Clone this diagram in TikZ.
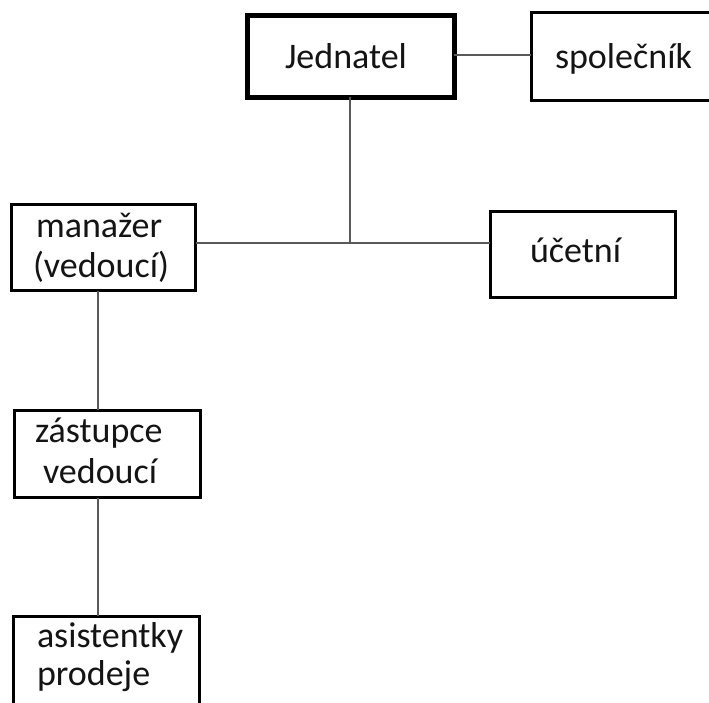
\documentclass[tikz,border=0pt]{standalone}
\usepackage{fontspec}
\setmainfont{Carlito}
\begin{document}
\begin{tikzpicture}[x=1pt,y=-1pt,
  box/.style={draw=black, line width=3pt, inner sep=0pt, outer sep=0pt, rectangle},
  thickbox/.style={box, line width=5pt},
  lbl/.style={anchor=base west, inner sep=0pt, outer sep=0pt, text=black!92, font=\fontsize{36}{40}\selectfont},
  conn/.style={draw=black!65, line width=1.5pt}]
\useasboundingbox (0,0) rectangle (709,702);
\clip (0,0) rectangle (709,702);
\fill[white] (0,0) rectangle (709,702);
% boxes
\node[thickbox, minimum width=207pt, minimum height=82pt] (J) at (350.5,56) {};
\node[box, minimum width=229pt, minimum height=87.5pt] (S) at (645.5,56.25) {};
\node[box, minimum width=184.5pt, minimum height=86pt] (M) at (103.25,247.5) {};
\node[box, minimum width=185pt, minimum height=86pt] (U) at (582.5,254) {};
\node[box, minimum width=185.5pt, minimum height=87.5pt] (Z) at (107.25,453.75) {};
\node[box, minimum width=185.5pt, minimum height=144pt] (A) at (106.25,688) {};
% texts
\node[lbl] (tJ) at (285,68) {Jednatel};
\node[lbl] (tS) at (555,68) {společník};
\node[lbl] (tM1) at (36,237) {manažer};
\node[lbl] (tM2) at (33,277) {(vedoucí)};
\node[lbl] (tU) at (530,262) {účetní};
\node[lbl] (tZ1) at (35,442) {zástupce};
\node[lbl] (tZ2) at (43,483) {vedoucí};
\node[lbl] (tA1) at (37,647) {asistentky};
\node[lbl] (tA2) at (37,685) {prodeje};
% connectors
\coordinate (jn) at (350,243);
\coordinate (vx) at (98,0);
\coordinate (hy) at (0,55);
\draw[conn] (J.east |- hy) -- (S.west |- hy);
\draw[conn] (J.south -| jn) -- (jn);
\draw[conn] (M.east |- jn) -- (U.west |- jn);
\draw[conn] (M.south -| vx) -- (Z.north -| vx);
\draw[conn] (Z.south -| vx) -- (A.north -| vx);
\end{tikzpicture}
\end{document}
